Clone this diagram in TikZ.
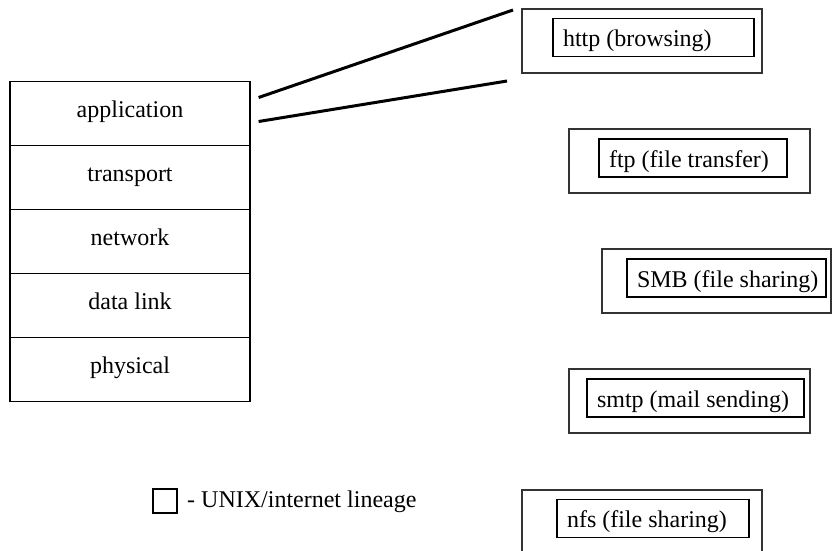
\documentclass[tikz,border=0pt]{standalone}
\usepackage{fontspec}
\setmainfont{Liberation Serif}
\usetikzlibrary{calc}
\newcommand{\protolabel}[2]{\makebox[#1pt][l]{#2}}
\begin{document}
\begin{tikzpicture}[x=1pt,y=-1pt,
  every node/.style={font=\fontsize{24}{28}\selectfont, inner sep=0pt},
  layer/.style={draw, line width=1.2pt, minimum width=240, minimum height=64,
                text height=15, text depth=7},
  outerbox/.style={draw=black!80, line width=1.5pt},
  proto/.style={draw, line width=1.1pt, inner xsep=10pt,
                minimum height=38, text height=20, text depth=2},
  link/.style={line width=3pt}]
\useasboundingbox (0,0) rectangle (832,550);

% protocol stack
\node[layer] (app)  at (130,113.5) {application};
\node[layer] (tra)  at (130,177.5) {transport};
\node[layer] (net)  at (130,241.5) {network};
\node[layer] (dl)   at (130,305.5) {data link};
\node[layer] (phy)  at (130,369.5) {physical};

% application protocols, each inside its frame
\node[outerbox, minimum width=240, minimum height=64] (httpF) at (642,41) {};
\node[proto] (http) at (653.5,37.5) {\protolabel{181}{http (browsing)}};

\node[outerbox, minimum width=241, minimum height=64] (ftpF) at (689.5,161) {};
\node[proto] (ftp) at (693,158) {\protolabel{168}{ftp (file transfer)}};

\node[outerbox, minimum width=229, minimum height=64] (smbF) at (716.5,281) {};
\node[proto] (smb) at (726.5,278) {\protolabel{179}{SMB (file sharing)}};

\node[outerbox, minimum width=241, minimum height=64] (smtpF) at (689.5,401) {};
\node[proto] (smtp) at (695.5,398) {\protolabel{197}{smtp (mail sending)}};

\node[outerbox, minimum width=240, minimum height=64] (nfsF) at (642,522) {};
\node[proto] (nfs) at (653,518.5) {\protolabel{172}{nfs (file sharing)}};

% legend
\node[draw, line width=1.1pt, minimum size=24] (key) at (165,501) {};
\node[anchor=base west] (keytxt) at (187,507) {- UNIX/internet lineage};

% fan-out from the application layer
\coordinate (fanA) at (513,10);
\coordinate (fanB) at (507,81);
\draw[link] ($(app.east)+(8,-16)$) -- (fanA);
\draw[link] ($(app.east)+(8,8)$) -- (fanB);
\end{tikzpicture}
\end{document}
